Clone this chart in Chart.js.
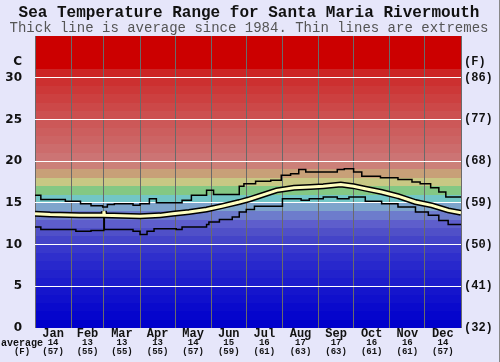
<!DOCTYPE html>
<html>
<head>
<meta charset="utf-8">
<script src="https://cdn.jsdelivr.net/npm/chart.js@4"></script>
<style>
body { margin: 0; background: #e6e6fa; }
#wrap { width: 500px; height: 362px; position: relative; box-sizing: border-box; border-right: 1px solid #888; }
</style>
</head>
<body>
<div id="wrap"><canvas id="myChart"></canvas></div>
<script>
// month labels along the bottom
const months = ['Jan', 'Feb', 'Mar', 'Apr', 'May', 'Jun', 'Jul', 'Aug', 'Sep', 'Oct', 'Nov', 'Dec'];
const monthStart = [0, 31, 59, 90, 120, 151, 181, 212, 243, 273, 304, 334, 365];
const monthAvgC = [14, 13, 13, 13, 14, 15, 16, 17, 17, 16, 16, 14];
const monthAvgF = [57, 55, 55, 55, 57, 59, 61, 63, 63, 61, 61, 57];

// temperature ticks (C) and their F labels
const tempTicks = [0, 5, 10, 15, 20, 25, 30];
const fahrTicks = [32, 41, 50, 59, 68, 77, 86];

// maximum (thin line), day of year -> C
const maxDays = [0, 5, 26, 39, 48, 58, 62, 68, 84, 90, 98, 104, 126, 134, 147, 153, 175, 179, 189, 202, 211, 219, 226, 232, 247, 259, 265, 273, 280, 296, 311, 323, 330, 339, 346, 352, 365];
const maxTemps = [15.9, 15.4, 15.2, 14.9, 14.65, 14.5, 14.8, 14.9, 14.7, 14.9, 15.5, 15.0, 15.3, 15.9, 16.5, 16.0, 17.0, 17.3, 17.6, 17.7, 18.3, 18.5, 19.0, 18.7, 18.7, 19.0, 19.1, 18.7, 18.2, 18.0, 17.8, 17.5, 17.3, 16.8, 16.3, 15.7, 15.7];

// average (thick line)
const avgDays = [0, 13, 38, 58.4, 59, 59.6, 90, 107, 118, 132, 147, 160, 175, 183, 194, 207, 222, 236, 247, 262, 273, 283, 297, 311, 326, 340, 354, 365];
const avgTemps = [13.7, 13.6, 13.5, 13.5, 14.0, 13.5, 13.4, 13.5, 13.7, 13.9, 14.2, 14.6, 15.1, 15.4, 15.9, 16.5, 16.8, 16.9, 17.0, 17.2, 17.0, 16.7, 16.3, 15.8, 15.1, 14.7, 14.1, 13.8];

// minimum (thin line)
const minDays = [0, 5, 35, 48, 59, 59.4, 84, 90, 96, 102, 121, 126, 147, 149, 158, 169, 175, 181, 188, 212, 228, 235, 247, 259, 269, 283, 297, 311, 326, 337, 346, 354, 365];
const minTemps = [12.1, 11.8, 11.6, 11.7, 13.9, 11.8, 11.6, 11.2, 11.6, 11.9, 11.8, 12.1, 12.4, 12.7, 13.0, 13.3, 13.9, 14.2, 14.6, 15.5, 15.3, 15.5, 15.7, 15.5, 15.7, 15.2, 14.9, 14.5, 13.9, 13.5, 12.9, 12.4, 12.4];

// one colour per degree, 0-1 C upward
const bandColors = [
  '#0000cc', '#0505cc', '#0a0acc', '#1010cc', '#1515cc', '#1c1ccc', '#2222cc', '#2828cc', '#2f2fcc', '#3838cc',
  '#4444c8', '#5050c8', '#5e5ecc', '#6d7ccc', '#7ea4cc', '#72c6c6', '#84c884', '#c8c884', '#c8a078', '#cc8078',
  '#cc7474', '#cc6c6c', '#cc6464', '#cc5e5e', '#cc5858', '#cc5050', '#cc4848', '#cc4040', '#cc3838', '#cc3030',
  '#cc2424', '#cc0000', '#cc0000', '#cc0000', '#cc0000'
];

function toPoints(days, temps) {
  return days.map((d, i) => ({ x: d, y: temps[i] }));
}

const bandPlugin = {
  id: 'bands',
  beforeDraw(chart) {
    const { ctx, chartArea: a, scales: { y } } = chart;
    ctx.save();
    bandColors.forEach((c, i) => {
      const top = Math.round(y.getPixelForValue(i + 1));
      const bot = Math.round(y.getPixelForValue(i));
      ctx.fillStyle = c;
      ctx.fillRect(a.left, top, a.right - a.left, bot - top);
    });
    ctx.restore();
  }
};

const textPlugin = {
  id: 'texts',
  afterDraw(chart) {
    const { ctx, scales: { x, y } } = chart;
    ctx.save();
    ctx.textAlign = 'center';
    ctx.textBaseline = 'middle';
    ctx.fillStyle = '#111';
    ctx.font = 'bold 16px "Liberation Mono"';
    ctx.fillText('Sea Temperature Range for Santa Maria Rivermouth', 249, 13);
    ctx.fillStyle = '#555';
    ctx.font = '14px "Liberation Mono"';
    ctx.fillText('Thick line is average since 1984. Thin lines are extremes', 249, 28);

    ctx.fillStyle = '#111';
    months.forEach((m, i) => {
      const cx = x.getPixelForValue((monthStart[i] + monthStart[i + 1]) / 2);
      ctx.font = 'bold 12px "Liberation Mono"';
      ctx.fillText(m, cx, 334);
      ctx.font = 'bold 9px "Liberation Mono"';
      ctx.fillText(String(monthAvgC[i]), cx, 343);
      ctx.fillText('(' + monthAvgF[i] + ')', cx, 352);
    });
    ctx.font = 'bold 10px "Liberation Mono"';
    ctx.fillText('average', 22, 343);
    ctx.font = 'bold 9px "Liberation Mono"';
    ctx.fillText('(F)', 22, 352);
    ctx.restore();
  }
};

const headerValue = 31.9;

new Chart(document.getElementById('myChart'), {
  type: 'line',
  data: {
    datasets: [
      { data: toPoints(avgDays, avgTemps), borderColor: '#ffffc0', borderWidth: 3, order: 0 },
      { data: toPoints(maxDays, maxTemps), borderColor: '#000', borderWidth: 1.5, stepped: true, order: 1 },
      { data: toPoints(minDays, minTemps), borderColor: '#000', borderWidth: 1.5, stepped: true, order: 1 },
      { data: toPoints(avgDays, avgTemps), borderColor: '#000', borderWidth: 6, order: 3 }
    ]
  },
  options: {
    responsive: true,
    maintainAspectRatio: false,
    animation: false,
    layout: { padding: { top: 36, left: 0, right: 0, bottom: 0 } },
    elements: { point: { radius: 0 }, line: { tension: 0, fill: false } },
    plugins: { legend: { display: false }, tooltip: { enabled: false } },
    scales: {
      x: {
        type: 'linear',
        min: 0,
        max: 365,
        afterBuildTicks: s => { s.ticks = monthStart.map(v => ({ value: v })); },
        afterFit: s => { s.height = 34; },
        ticks: { display: false },
        grid: { color: '#6a6a6a', lineWidth: 1, drawTicks: false },
        border: { display: false }
      },
      y: {
        type: 'linear',
        position: 'left',
        min: 0,
        max: 35,
        afterBuildTicks: s => { s.ticks = tempTicks.concat([headerValue]).map(v => ({ value: v })); },
        afterFit: s => { s.width = 35; },
        ticks: {
          padding: 13,
          color: '#111',
          font: { family: 'DejaVu Sans', weight: 'bold', size: 12 },
          callback: v => (v > 30 ? 'C' : v)
        },
        grid: {
          drawTicks: false,
          lineWidth: 1,
          color: c => {
            const v = c.tick.value;
            return (v > 0 && v <= 30 && v % 5 === 0) ? '#ffffff' : 'rgba(0,0,0,0)';
          }
        },
        border: { display: false }
      },
      yF: {
        type: 'linear',
        position: 'right',
        min: 0,
        max: 35,
        afterBuildTicks: s => { s.ticks = tempTicks.concat([headerValue]).map(v => ({ value: v })); },
        afterFit: s => { s.width = 38; },
        ticks: {
          padding: 3,
          color: '#111',
          font: { family: 'Liberation Mono', weight: 'bold', size: 12 },
          callback: v => (v > 30 ? '(F)' : '(' + fahrTicks[tempTicks.indexOf(v)] + ')')
        },
        grid: { display: false, drawTicks: false },
        border: { display: false }
      }
    }
  },
  plugins: [bandPlugin, textPlugin]
});
</script>
</body>
</html>
